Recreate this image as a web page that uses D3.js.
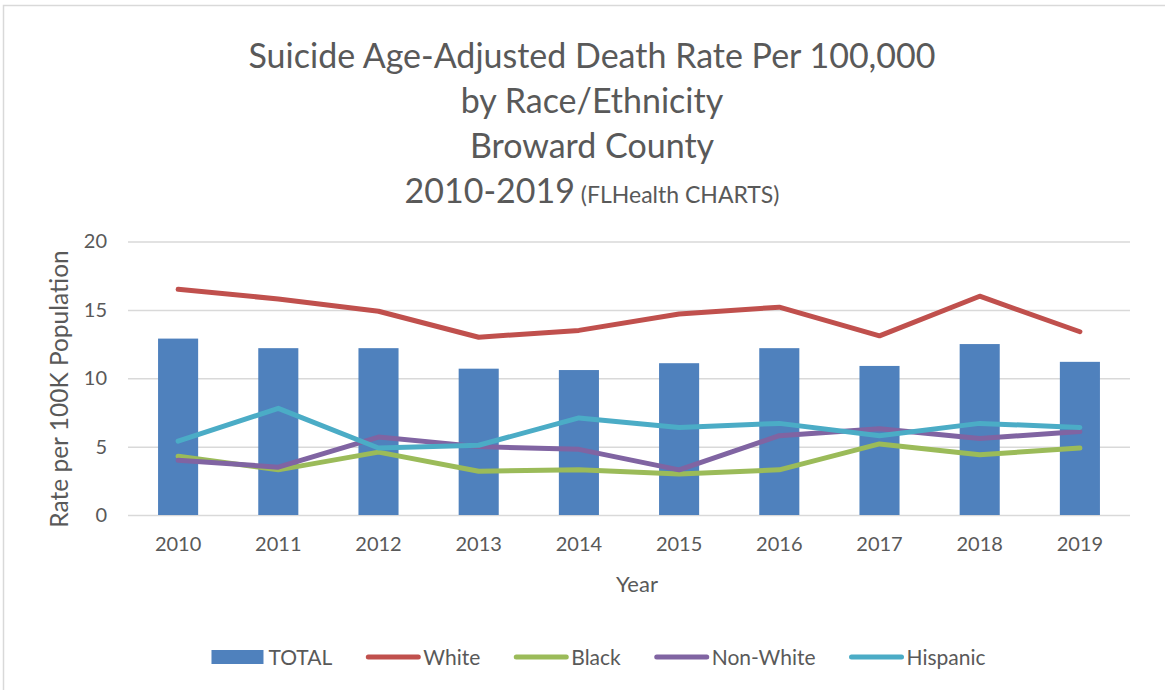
<!DOCTYPE html>
<html><head><meta charset="utf-8">
<script src="https://cdn.jsdelivr.net/npm/d3@7"></script>
<style>body{margin:0;background:#fff}svg{display:block}text{font-family:Lato,"Open Sans",sans-serif;fill:#595959}</style>
</head><body><svg id="c" width="1165" height="690"></svg>
<script>
const years = ["2010","2011","2012","2013","2014","2015","2016","2017","2018","2019"];
const total    = [12.9,12.2,12.2,10.7,10.6,11.1,12.2,10.9,12.5,11.2];
const white    = [16.5,15.8,14.9,13.0,13.5,14.7,15.2,13.1,16.0,13.4];
const black    = [4.3,3.3,4.6,3.2,3.3,3.0,3.3,5.2,4.4,4.9];
const nonWhite = [4.0,3.5,5.7,5.0,4.8,3.3,5.8,6.3,5.6,6.1];
const hispanic = [5.4,7.8,4.9,5.1,7.1,6.4,6.7,5.8,6.7,6.4];
const yTicks = [0,5,10,15,20];
const titleLines = ["Suicide Age-Adjusted Death Rate Per 100,000","by Race/Ethnicity","Broward County","2010-2019"];
const titleNote = "(FLHealth CHARTS)";
const lineSeries = [
  {name:"White", values:white, color:"#C0504D"},
  {name:"Black", values:black, color:"#9BBB59"},
  {name:"Non-White", values:nonWhite, color:"#8064A2"},
  {name:"Hispanic", values:hispanic, color:"#4BACC6"}
];
const barColor = "#4F81BD";

const svg = d3.select("#c");
// chart border
svg.append("rect").attr("x",3.5).attr("y",5.5).attr("width",1170).attr("height",700)
  .attr("fill","none").attr("stroke","#d9d9d9").attr("stroke-width",1.5);

const x = d3.scaleBand().domain(years).range([128,1130]).paddingInner(0.6).paddingOuter(0.3);
const xc = d => x(d) + x.bandwidth()/2;
const y = d3.scaleLinear().domain([0,20]).range([515,241.5]);

// gridlines
const yAxis = d3.axisLeft(y).tickValues(yTicks).tickSize(-(1130-128)).tickPadding(20);
const ga = svg.append("g").attr("transform","translate(128,0)").call(yAxis);
ga.select(".domain").remove();
ga.selectAll(".tick line").attr("stroke","#d9d9d9").attr("stroke-width",1.5);
ga.selectAll(".tick text").attr("font-size",20).style("fill","#595959").attr("x",-21);

// bars
svg.append("g").selectAll("rect").data(years).join("rect")
  .attr("x",d=>x(d)).attr("width",x.bandwidth())
  .attr("y",(d,i)=>y(total[i])).attr("height",(d,i)=>y(0)-y(total[i]))
  .attr("fill",barColor);

// x axis labels
const xAxis = d3.axisBottom(x).tickSize(0).tickPadding(22);
const gx = svg.append("g").attr("transform","translate(0,515)").call(xAxis);
gx.select(".domain").remove();
gx.selectAll(".tick text").attr("font-size",20).style("fill","#595959");

// lines
const line = d3.line().x((d,i)=>xc(years[i])).y(d=>y(d));
svg.append("g").selectAll("path").data(lineSeries).join("path")
  .attr("d",s=>line(s.values)).attr("fill","none").attr("stroke",s=>s.color)
  .attr("stroke-width",5).attr("stroke-linecap","round").attr("stroke-linejoin","round");

// titles
const tg = svg.append("g");
titleLines.forEach((t,i)=>{
  const tx = tg.append("text").attr("x",592).attr("y",68+45*i).attr("text-anchor","middle").attr("font-size",34);
  tx.append("tspan").text(t);
  if(i===3){ tx.append("tspan").attr("font-size",23).text(" "+titleNote); }
});

// axis titles
svg.append("text").attr("transform","translate(68,389) rotate(-90)").attr("text-anchor","middle").attr("font-size",24.5).text("Rate per 100K Population");
svg.append("text").attr("x",637).attr("y",592).attr("text-anchor","middle").attr("font-size",22).text("Year");

// legend
const items = [{name:"TOTAL",color:barColor,bar:true}].concat(lineSeries);
const lg = svg.append("g");
let cx = 0;
items.forEach(it=>{
  const g = lg.append("g").attr("transform",`translate(${cx},0)`);
  if(it.bar) g.append("rect").attr("x",0).attr("y",-7).attr("width",52).attr("height",14).attr("fill",it.color);
  else g.append("line").attr("x1",2).attr("x2",52).attr("y1",0).attr("y2",0).attr("stroke",it.color).attr("stroke-width",5).attr("stroke-linecap","round");
  const t = g.append("text").attr("x",57).attr("y",7.5).attr("font-size",21).text(it.name);
  cx += 57 + t.node().getComputedTextLength() + 34;
});
const lw = cx - 34;
lg.attr("transform",`translate(${598.5-lw/2},657)`);
</script></body></html>
